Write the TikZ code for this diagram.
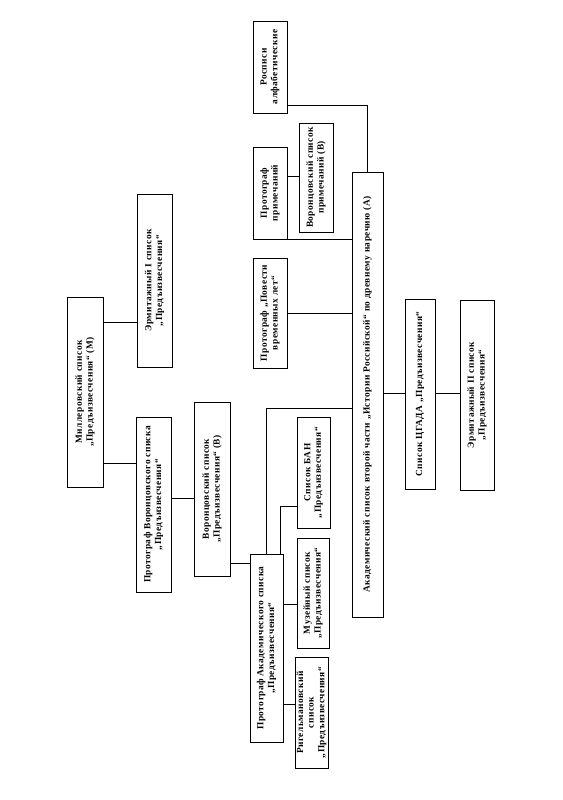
\documentclass[tikz,border=0pt]{standalone}
\usepackage{fontspec}
\setmainfont[LetterSpace=5]{Liberation Serif}
\usetikzlibrary{positioning}
\tikzset{
x=0.75pt,
y=-0.75pt,
every node/.style={font=\bfseries\fontsize{7}{8}\selectfont},
list/.style={draw, line width=0.7pt, rotate=90, align=center, inner sep=1pt},
boxsize/.style 2 args={minimum width=#1*0.75pt, minimum height=#2*0.75pt},
link/.style={line width=0.6pt},
}
\begin{document}
\begin{tikzpicture}
        \useasboundingbox (0,0) rectangle (563,800);
        \node[list,boxsize={190}{36}] (M) at (85,392) {Миллеровский список\\„Предъизвесчения“ (М)};
        \node[list,boxsize={173}{35}] (E1) at (154.5,280.5) {Эрмитажный I список\\„Предъизвесчения“};
        \node[list,boxsize={175}{35}] (PV) at (153.5,504.5) {Протограф Воронцовского списка\\„Предъизвесчения“};
        \node[list,boxsize={174}{36}] (VB) at (212,489) {Воронцовский список\\„Предъизвесчения“ (В)};
        \node[list,boxsize={188}{33}] (PA) at (266.5,648) {Протограф Академического списка\\„Предъизвесчения“};
        \node[list,boxsize={111}{33}] (BAN) at (313.5,472.5) {Список БАН\\„Предъизвесчения“};
        \node[list,boxsize={110}{32}] (Mus) at (313,593) {Музейный список\\„Предъизвесчения“};
        \node[list,boxsize={111}{33}] (Rig) at (311.5,712.5) {Ригельмановский\\список\\„Предъизвесчения“};
        \node[list,boxsize={445}{31}] (AA) at (367.5,394.5) {Академический список второй части „Истории Российской“ по древнему наречию (А)};
        \node[list,boxsize={190}{30}] (CG) at (420,394) {Список ЦГАДА „Предъизвесчения“};
        \node[list,boxsize={190}{34}] (E2) at (477,395) {Эрмитажный II список\\„Предъизвесчения“};
        \node[list,boxsize={92}{34}] (Ros) at (270,67) {Росписи\\алфабетические};
        \node[list,boxsize={92}{34}] (PP) at (270,193) {Протограф\\примечаний};
        \node[list,boxsize={109}{34}] (VP) at (316,177.5) {Воронцовский список\\примечаний (В)};
        \node[list,boxsize={110}{34}] (PPVL) at (270,313) {Протограф „Повести\\временных лет“};

        \draw[link] (M.south |- 0,322) -- (E1.north |- 0,322);
        \draw[link] (M.south |- 0,463) -- (PV.north |- 0,463);
        \draw[link] (PV.south |- 0,498) -- (VB.north |- 0,498);
        \draw[link] (VB.south |- 0,563) -- (PA.north |- 0,563);
        \draw[link] (PA.east) |- (AA.north |- 0,408);
        \draw[link] (PA.north east -| 280,0) |- (BAN.north |- 0,506);
        \draw[link] (PA.south |- 0,604) -- (Mus.north |- 0,604);
        \draw[link] (PA.south |- 0,704) -- (Rig.north |- 0,704);
        \draw[link] (AA.south |- 0,393) -- (CG.north |- 0,393);
        \draw[link] (CG.south |- 0,393) -- (E2.north |- 0,393);
        \draw[link] (Ros.south |- 0,105) -| (AA.east);
        \draw[link] (PP.south |- 0,176) -- (VP.north |- 0,176);
        \draw[link] (PP.south west) -- (AA.north |- PP.south west);
        \draw[link] (PPVL.south) -- (AA.north |- PPVL.south);
\end{tikzpicture}
\end{document}
